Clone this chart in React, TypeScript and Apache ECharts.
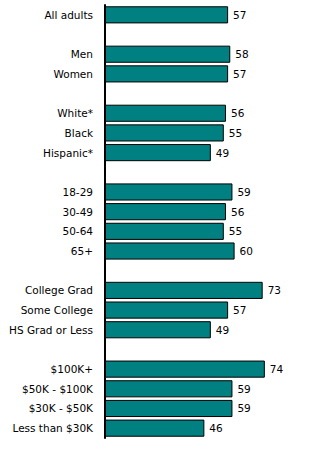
import React, { useEffect, useRef } from "react";
import * as echarts from "echarts";

const categories: string[] = [
  "All adults", "",
  "Men", "Women", "",
  "White*", "Black", "Hispanic*", "",
  "18-29", "30-49", "50-64", "65+", "",
  "College Grad", "Some College", "HS Grad or Less", "",
  "$100K+", "$50K - $100K", "$30K - $50K", "Less than $30K",
];
const values: (number | null)[] = [
  57, null,
  58, 57, null,
  56, 55, 49, null,
  59, 56, 55, 60, null,
  73, 57, 49, null,
  74, 59, 59, 46,
];

export default function App() {
  const ref = useRef<HTMLDivElement>(null);
  useEffect(() => {
    if (!ref.current) return;
    const chart = echarts.init(ref.current, undefined, { renderer: "svg" });
    chart.setOption({
      animation: false,
      backgroundColor: "#ffffff",
      grid: { left: 105, top: 5, width: 216, height: 433, containLabel: false },
      xAxis: { type: "value", min: 0, max: 100, show: false },
      yAxis: {
        type: "category",
        data: categories,
        inverse: true,
        axisLine: { show: true, lineStyle: { color: "#000", width: 2 } },
        axisTick: { show: false },
        axisLabel: { color: "#000", fontFamily: "DejaVu Sans", fontSize: 10.5, margin: 12 },
        splitLine: { show: false },
      },
      series: [
        {
          type: "bar",
          data: values,
          barCategoryGap: "13%",
          itemStyle: { color: "#008080", borderColor: "#000", borderWidth: 1 },
          label: {
            show: true,
            position: "right",
            distance: 5,
            color: "#000",
            fontFamily: "DejaVu Sans",
            fontSize: 10.5,
          },
        },
      ],
    });
    return () => chart.dispose();
  }, []);
  return (
    <div
      ref={ref}
      style={{ position: "fixed", left: 0, top: 0, width: 332, height: 453, background: "#fff" }}
    />
  );
}
